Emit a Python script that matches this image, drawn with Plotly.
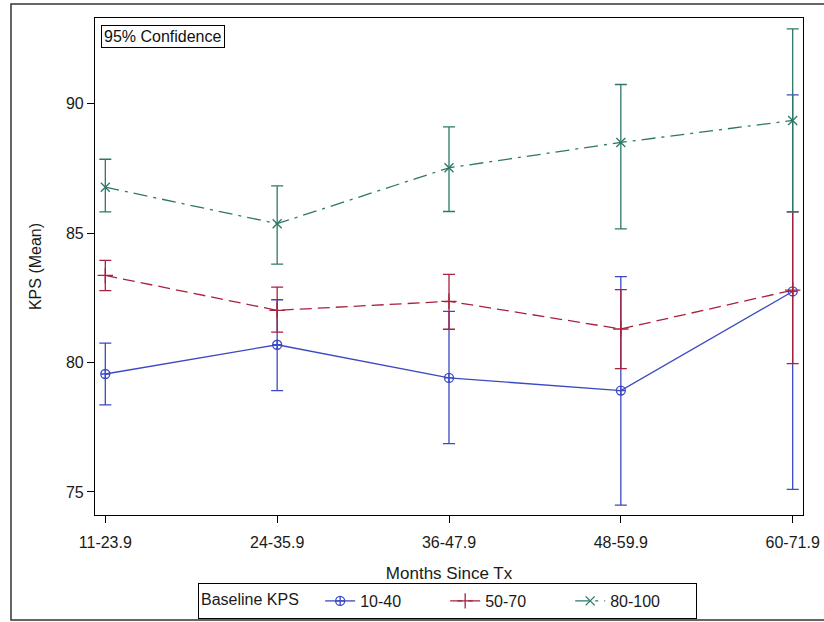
import plotly.graph_objects as go

categories = ["11-23.9", "24-35.9", "36-47.9", "48-59.9", "60-71.9"]

kps_10_40_mean = [79.56, 80.69, 79.41, 78.92, 82.75]
kps_10_40_upper = [80.75, 82.43, 81.98, 83.32, 90.35]
kps_10_40_lower = [78.37, 78.92, 76.87, 74.49, 75.10]

kps_50_70_mean = [83.37, 82.02, 82.37, 81.30, 82.80]
kps_50_70_upper = [83.95, 82.92, 83.41, 82.82, 85.83]
kps_50_70_lower = [82.78, 81.18, 81.29, 79.77, 79.96]

kps_80_100_mean = [86.78, 85.37, 87.53, 88.51, 89.36]
kps_80_100_upper = [87.86, 86.83, 89.11, 90.75, 92.90]
kps_80_100_lower = [85.83, 83.81, 85.84, 85.17, 85.83]

y_ticks = [75, 80, 85, 90]

FONT = "Liberation Sans, Arial, sans-serif"
TXT = "#1a1a1a"

series = [
    ("10-40", kps_10_40_mean, kps_10_40_upper, kps_10_40_lower, "#3b49c2",
     "solid", "circle-cross-open", 9),
    ("50-70", kps_50_70_mean, kps_50_70_upper, kps_50_70_lower, "#a8213d",
     "12px,6px", "cross-thin-open", 11),
    ("80-100", kps_80_100_mean, kps_80_100_upper, kps_80_100_lower, "#2c7868",
     "14px,6px,3px,6px", "x-thin-open", 9),
]

fig = go.Figure()
for name, mean, up, lo, color, dash, symbol, msize in series:
    fig.add_trace(go.Scatter(
        x=categories, y=mean, name=name, mode="lines+markers",
        line=dict(color=color, width=1.3, dash=dash),
        marker=dict(symbol=symbol, size=msize, color=color,
                    line=dict(color=color, width=1.3)),
        error_y=dict(type="data", symmetric=False,
                     array=[u - m for u, m in zip(up, mean)],
                     arrayminus=[m - l for m, l in zip(mean, lo)],
                     color=color, thickness=1.3, width=6),
    ))

L, R, T, B = 95, 21, 18, 107
W, H = 824, 622
pw, ph = W - L - R, H - T - B


def px_x(px):
    return (px - L) / pw


def px_y(py):
    return (H - B - py) / ph


fig.update_layout(
    width=W, height=H,
    margin=dict(l=L, r=R, t=T, b=B, autoexpand=False),
    paper_bgcolor="white", plot_bgcolor="white",
    font=dict(family=FONT, size=16, color=TXT),
    xaxis=dict(
        range=[-0.06, 4.06], showgrid=False, zeroline=False,
        showline=True, linecolor="black", linewidth=1.2, mirror=True,
        ticks="outside", ticklen=7, tickcolor="black",
        ticklabelstandoff=6,
        tickfont=dict(size=16, family=FONT, color=TXT),
        title=dict(text="Months Since Tx", font=dict(size=17, family=FONT, color=TXT),
                   standoff=16),
    ),
    yaxis=dict(
        range=[74.11, 93.32], tickvals=y_ticks, showgrid=False, zeroline=False,
        showline=True, linecolor="black", linewidth=1.2, mirror=True,
        ticks="outside", ticklen=7, tickcolor="black",
        tickfont=dict(size=16, family=FONT, color=TXT),
        title=dict(text="KPS (Mean)", font=dict(size=16, family=FONT, color=TXT),
                   standoff=20),
    ),
    legend=dict(
        orientation="h", x=px_x(447.5), y=px_y(583), xanchor="center", yanchor="top",
        bordercolor="black", borderwidth=1, bgcolor="white",
        title=dict(text="Baseline KPS   ", side="left",
                   font=dict(size=16, family=FONT, color=TXT)),
        font=dict(size=16, family=FONT, color=TXT),
        entrywidth=80, entrywidthmode="pixels",
        tracegroupgap=0,
    ),
    showlegend=True,
)

fig.add_annotation(
    text="95% Confidence", xref="paper", yref="paper",
    x=px_x(101), y=px_y(24.5), xanchor="left", yanchor="top",
    showarrow=False, bordercolor="black", borderwidth=1, borderpad=2,
    bgcolor="white", font=dict(size=16, family=FONT, color="#111"),
)

# outer frame and top strip
fig.add_shape(type="rect", xref="paper", yref="paper",
              x0=px_x(-5), x1=px_x(830), y0=px_y(0), y1=px_y(-5),
              fillcolor="#dcdcdc", line=dict(width=0), layer="below")
fig.add_shape(type="rect", xref="paper", yref="paper",
              x0=px_x(11), x1=px_x(830), y0=px_y(4), y1=px_y(620),
              line=dict(color="#333", width=1.5), fillcolor="rgba(0,0,0,0)")

fig.write_html("out.html")
